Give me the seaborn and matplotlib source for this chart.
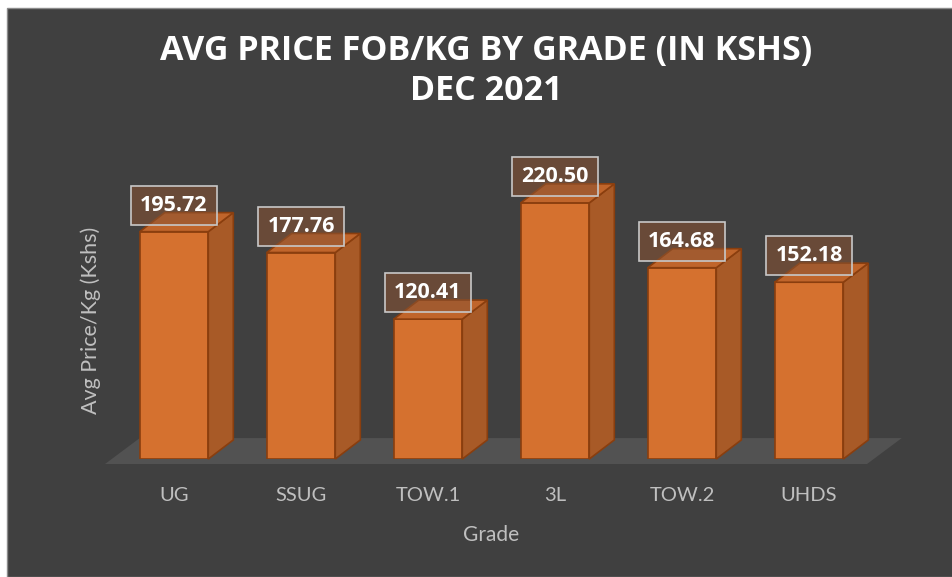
import numpy as np
import pandas as pd
import matplotlib
matplotlib.use("Agg")
import matplotlib.pyplot as plt
from matplotlib.patches import Polygon, Rectangle
import seaborn as sns

grades = ["UG", "SSUG", "TOW.1", "3L", "TOW.2", "UHDS"]
prices = [195.72, 177.76, 120.41, 220.50, 164.68, 152.18]
price_labels = ["195.72", "177.76", "120.41", "220.50", "164.68", "152.18"]

df = pd.DataFrame({"Grade": grades, "Price": prices})

sns.set_style("dark")
plt.rcParams["font.family"] = ["Lato", "DejaVu Sans"]

bg = "#404040"
front = "#D5712F"
side = "#A85A27"
top = "#C0652B"
edge = "#8A3E0E"
txt = "#BFBFBF"

W, H = 952, 577
fig = plt.figure(figsize=(W / 100, H / 100), dpi=100, facecolor="white")
fig.patches.append(Rectangle((7 / W, 0), 1, 1 - 8 / H, transform=fig.transFigure,
                             facecolor=bg, edgecolor="#8C8C8C", lw=1, zorder=-10))

ax = fig.add_axes([110.5 / W, (H - 459) / H, 762 / W, 302 / H])
ax.set_facecolor("none")

sns.barplot(data=df, x="Grade", y="Price", color=front, saturation=1,
            width=0.54, edgecolor=edge, linewidth=1.2, ax=ax, zorder=3)
ax.set_ylim(0, 260)
ax.set_xlim(-0.5, 5.5)

# depth offsets (data units)
ddx, ddy = 0.197, 16.4

# floor
fx0, fx1 = ax.get_xlim()
floor = Polygon([(fx0 - 0.043, -4.3), (fx1 - 0.043, -4.3), (fx1 + 0.23, 18.0), (fx0 + 0.23, 18.0)],
                closed=True, facecolor="#525252", edgecolor="none", zorder=1, clip_on=False)
ax.add_patch(floor)

for p, lab in zip(ax.patches[:len(prices)], price_labels):
    x0, w, h = p.get_x(), p.get_width(), p.get_height()
    x1 = x0 + w
    ax.add_patch(Polygon([(x1, 0), (x1 + ddx, ddy), (x1 + ddx, h + ddy), (x1, h)],
                         facecolor=side, edgecolor=edge, lw=1.2, zorder=3, clip_on=False))
    ax.add_patch(Polygon([(x0, h), (x0 + ddx, h + ddy), (x1 + ddx, h + ddy), (x1, h)],
                         facecolor=top, edgecolor=edge, lw=1.2, zorder=3, clip_on=False))
    ax.text(x0 + w / 2, h + 22.8, lab, ha="center", va="center", color="white",
            fontsize=15.5, fontweight="bold", family=["Open Sans", "DejaVu Sans"], zorder=5,
            bbox=dict(boxstyle="square,pad=0.42", facecolor=(0.55, 0.33, 0.2, 0.55),
                      edgecolor="#C8C8C8", lw=1.2))

sns.despine(ax=ax, left=True, bottom=True)
ax.set_yticks([])
ax.tick_params(axis="x", length=0, pad=20, labelsize=14.5, labelcolor=txt)
ax.set_xlabel("Grade", color=txt, fontsize=15, labelpad=15)
ax.set_ylabel("Avg Price/Kg (Kshs)", color=txt, fontsize=15.5)
ax.yaxis.set_label_coords(-0.012, 0.46)
ax.grid(False)

fig.suptitle("AVG PRICE FOB/KG BY GRADE (IN KSHS)\nDEC 2021", x=486 / W, y=1 - 34 / H,
             va="top", color="white", fontsize=24.5, fontweight="bold",
             family=["Open Sans", "DejaVu Sans"], linespacing=1.22)

fig.savefig("out.png", dpi=100, facecolor=fig.get_facecolor())
